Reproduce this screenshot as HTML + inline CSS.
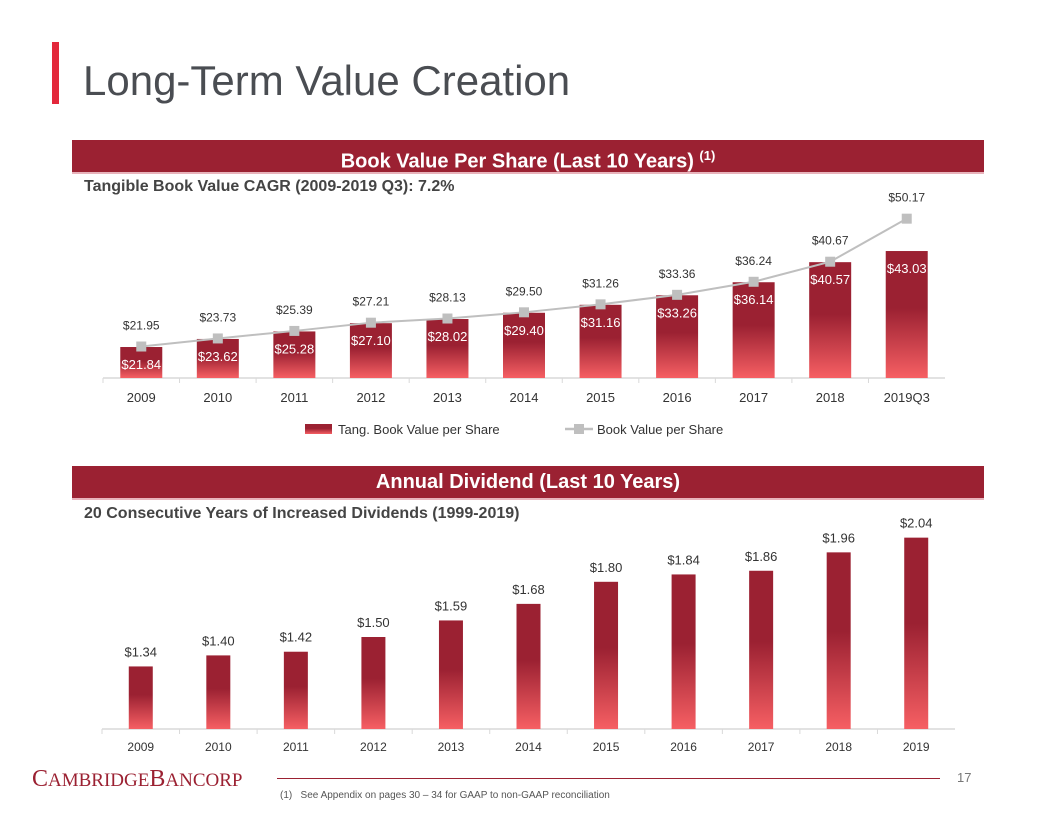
<!DOCTYPE html>
<html><head><meta charset="utf-8"><style>
body{margin:0;width:1056px;height:816px;background:#fff;position:relative;overflow:hidden;font-family:"Liberation Sans",sans-serif}
.abs{position:absolute}
.banner{position:absolute;left:72px;width:912px;height:32px;background:#9b2132;color:#fff;font-weight:bold;font-size:20px;text-align:center;line-height:32px;border-bottom:2px solid #e8b3bb}
.sub{position:absolute;left:84px;font-weight:bold;font-size:16px;color:#444}
</style></head><body>
<div class="abs" style="left:52px;top:42px;width:7px;height:62px;background:#e3283b"></div>
<div class="abs" style="left:83px;top:53px;font-size:42px;color:#4a4d52;line-height:56px">Long-Term Value Creation</div>
<div class="banner" style="top:140px">Book Value Per Share (Last 10 Years) <sup style="font-size:13px">(1)</sup></div>
<div class="sub" style="top:178px">Tangible Book Value CAGR (2009-2019 Q3): 7.2%</div>
<div class="banner" style="top:466px">Annual Dividend (Last 10 Years)</div>
<div class="sub" style="top:505px">20 Consecutive Years of Increased Dividends (1999-2019)</div>
<svg class="abs" style="left:0;top:0" width="1056" height="816" id="svg">
<defs><linearGradient id="g" x1="0" y1="0" x2="0" y2="1"><stop offset="0" stop-color="#9b2132"/><stop offset="0.45" stop-color="#9b2132"/><stop offset="1" stop-color="#f65f63"/></linearGradient></defs>
</svg>
<div class="abs" style="left:32px;top:766px;font-family:'Liberation Serif',serif;font-size:24px;color:#9b2132;letter-spacing:0px">C<span style="font-size:19px">AMBRIDGE</span>B<span style="font-size:19px">ANCORP</span></div>
<div class="abs" style="left:277px;top:778px;width:663px;height:1px;background:#9b2132"></div>
<div class="abs" style="left:957px;top:770px;font-size:13px;color:#777">17</div>
<div class="abs" style="left:280px;top:790px;font-size:10px;color:#555">(1)&nbsp;&nbsp;&nbsp;See Appendix on pages 30 – 34 for GAAP to non-GAAP reconciliation</div>
<script>
const bvCategories=["2009","2010","2011","2012","2013","2014","2015","2016","2017","2018","2019Q3"];
const tangBV=[21.84,23.62,25.28,27.10,28.02,29.40,31.16,33.26,36.14,40.57,43.03];
const bookBV=[21.95,23.73,25.39,27.21,28.13,29.50,31.26,33.36,36.24,40.67,50.17];
const divCategories=["2009","2010","2011","2012","2013","2014","2015","2016","2017","2018","2019"];
const dividends=[1.34,1.40,1.42,1.50,1.59,1.68,1.80,1.84,1.86,1.96,2.04];
const svg=document.getElementById('svg');const NS='http://www.w3.org/2000/svg';
function mk(t,a,txt){const e=document.createElementNS(NS,t);for(const k in a)e.setAttribute(k,a[k]);if(txt!==undefined)e.textContent=txt;svg.appendChild(e);return e;}
const F='"Liberation Sans",sans-serif';
const tX0=103,tX1=945,tBase=378,tMin=15,tScale=4.53;
const tBand=(tX1-tX0)/bvCategories.length;
const tx=i=>tX0+tBand*(i+0.5), ty=v=>tBase-(v-tMin)*tScale;
let ax=mk('line',{x1:tX0,y1:tBase,x2:tX1,y2:tBase,stroke:'#d9d9d9','stroke-width':1.5});

bvCategories.forEach((c,i)=>{
 let r=mk('rect',{x:tx(i)-21,y:ty(tangBV[i]),width:42,height:tBase-ty(tangBV[i]),fill:'url(#g)'});
 
 let l=mk('text',{x:tx(i),y:ty(tangBV[i])+22,'text-anchor':'middle','font-size':13,fill:'#fff','font-family':F},'$'+tangBV[i].toFixed(2));
 
 let t=mk('text',{x:tx(i),y:tBase+24,'text-anchor':'middle','font-size':13,fill:'#333','font-family':F},c);
 
 let tk=mk('line',{x1:tX0+tBand*i,y1:tBase,x2:tX0+tBand*i,y2:tBase+5,stroke:'#d9d9d9'});
 
});
let pl=mk('polyline',{points:bookBV.map((v,i)=>tx(i)+','+ty(v)).join(' '),fill:'none',stroke:'#bfbfbf','stroke-width':2});

bookBV.forEach((v,i)=>{
 let m=mk('rect',{x:tx(i)-5,y:ty(v)-5,width:10,height:10,fill:'#bfbfbf'});
 
 let l=mk('text',{x:tx(i),y:ty(v)-17,'text-anchor':'middle','font-size':12,fill:'#333','font-family':F},'$'+v.toFixed(2));
 
});
let lg1=mk('rect',{x:305,y:424,width:27,height:10,fill:'url(#g)'});
let lt1=mk('text',{x:338,y:434,'font-size':13,fill:'#333','font-family':F},'Tang. Book Value per Share');
let lg2=mk('line',{x1:565,y1:429,x2:593,y2:429,stroke:'#bfbfbf','stroke-width':2.5});
let lg3=mk('rect',{x:574,y:424,width:10,height:10,fill:'#bfbfbf'});
let lt2=mk('text',{x:597,y:434,'font-size':13,fill:'#333','font-family':F},'Book Value per Share');
const bX0=102,bX1=955,bBase=729,bMin=1.0,bScale=184;
const bBand=(bX1-bX0)/divCategories.length;
const bx=i=>bX0+bBand*(i+0.5), by=v=>bBase-(v-bMin)*bScale;
let ax2=mk('line',{x1:bX0,y1:bBase,x2:bX1,y2:bBase,stroke:'#d9d9d9','stroke-width':1.5});

divCategories.forEach((c,i)=>{
 let r=mk('rect',{x:bx(i)-12,y:by(dividends[i]),width:24,height:bBase-by(dividends[i]),fill:'url(#g)'});
 
 let l=mk('text',{x:bx(i),y:by(dividends[i])-10,'text-anchor':'middle','font-size':13,fill:'#333','font-family':F},'$'+dividends[i].toFixed(2));
 
 let t=mk('text',{x:bx(i),y:bBase+22,'text-anchor':'middle','font-size':12,fill:'#333','font-family':F},c);
 
 let tk=mk('line',{x1:bX0+bBand*i,y1:bBase,x2:bX0+bBand*i,y2:bBase+5,stroke:'#d9d9d9'});
 
});
</script>
</body></html>
